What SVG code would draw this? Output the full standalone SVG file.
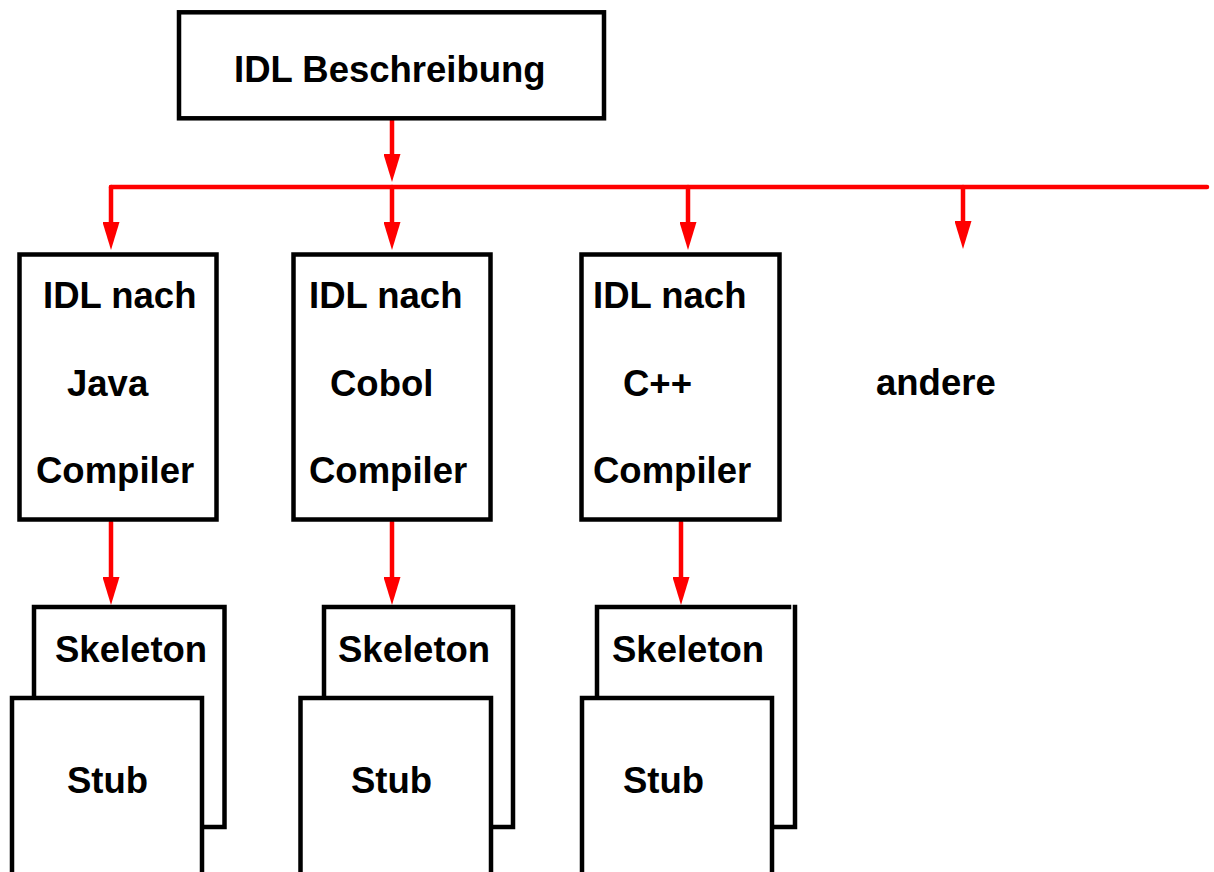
<svg xmlns="http://www.w3.org/2000/svg" width="1214" height="872" viewBox="0 0 1214 872">
<style>
.box{fill:#fff;stroke:#000;stroke-width:4.5}
.edge{fill:none;stroke:#000;stroke-width:4.5;stroke-linecap:square}
.t{font-family:"Liberation Sans",Arial,sans-serif;font-weight:bold;font-size:36.5px;fill:#000}
.c{fill:none;stroke:#ff0000;stroke-width:4.5;stroke-linecap:round}
</style>
<defs>
<marker id="ah" viewBox="0 0 28 17" refX="2" refY="8.5" markerWidth="28" markerHeight="17" markerUnits="userSpaceOnUse" orient="auto">
<path d="M0,0 L28,8.5 L0,17 Z" fill="#ff0000"/>
</marker>
</defs>
<rect width="1214" height="872" fill="#fff"/>
<g id="connectors">
<path class="c" d="M392,120 V156" marker-end="url(#ah)"/>
<path class="c" d="M111,187 H1207"/>
<path class="c" d="M111,187 V224" marker-end="url(#ah)"/>
<path class="c" d="M392,187 V224" marker-end="url(#ah)"/>
<path class="c" d="M688,187 V224" marker-end="url(#ah)"/>
<path class="c" d="M963,187 V223" marker-end="url(#ah)"/>
<path class="c" d="M111,522 V579" marker-end="url(#ah)"/>
<path class="c" d="M392,522 V579" marker-end="url(#ah)"/>
<path class="c" d="M681,522 V579" marker-end="url(#ah)"/>
</g>
<g id="idl">
<rect class="box" x="179" y="12.3" width="425" height="106"/>
<text class="t" x="234" y="82">IDL Beschreibung</text>
</g>
<g id="java">
<rect class="box" x="19.5" y="254.5" width="197" height="265"/>
<text class="t" x="43" y="308">IDL nach</text>
<text class="t" x="67" y="396">Java</text>
<text class="t" x="36" y="483">Compiler</text>
</g>
<g id="cobol">
<rect class="box" x="293.5" y="254.5" width="197" height="265"/>
<text class="t" x="309" y="308">IDL nach</text>
<text class="t" x="330" y="396">Cobol</text>
<text class="t" x="309" y="483">Compiler</text>
</g>
<g id="cpp">
<rect class="box" x="581.5" y="254.5" width="198" height="265"/>
<text class="t" x="593" y="308">IDL nach</text>
<text class="t" x="623" y="396">C++</text>
<text class="t" x="593" y="483">Compiler</text>
</g>
<g id="andere">
<text class="t" x="876" y="395">andere</text>
</g>
<g id="java-skeleton">
<rect class="box" x="34" y="607" width="190.5" height="220"/>
<text class="t" x="55" y="662">Skeleton</text>
</g>
<g id="java-stub">
<rect class="box" x="12" y="698" width="190" height="182"/>
<text class="t" x="67" y="793">Stub</text>
</g>
<g id="cobol-skeleton">
<rect class="box" x="324" y="607" width="189" height="220"/>
<text class="t" x="338" y="662">Skeleton</text>
</g>
<g id="cobol-stub">
<rect class="box" x="300.5" y="698" width="190.5" height="182"/>
<text class="t" x="351" y="793">Stub</text>
</g>
<g id="cpp-skeleton">
<rect x="597" y="607" width="198" height="220" fill="#fff"/>
<path class="edge" d="M597,698 V607 H789"/>
<path class="edge" d="M795,607 V827 H772"/>
<text class="t" x="612" y="662">Skeleton</text>
</g>
<g id="cpp-stub">
<rect class="box" x="582" y="698" width="190" height="182"/>
<text class="t" x="623" y="793">Stub</text>
</g>
</svg>
